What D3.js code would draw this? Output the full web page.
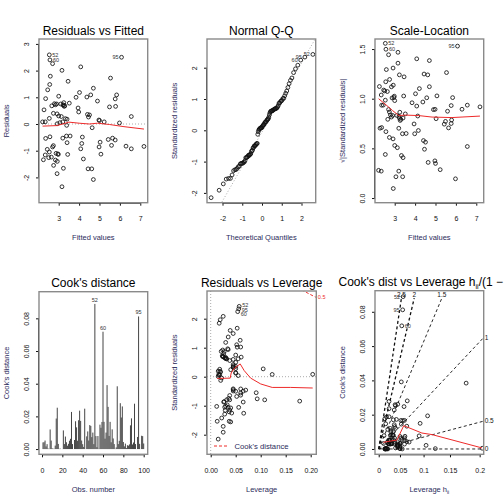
<!DOCTYPE html>
<html><head><meta charset="utf-8">
<script src="https://cdn.jsdelivr.net/npm/d3@7"></script>
<style>html,body{margin:0;padding:0;background:#fff;}</style>
</head><body>
<script>
// ---------------- data (one entry per observation, obs 1..100) ----------------
const obsFitted = [2.36,4.90,5.77,2.74,2.79,3.13,2.54,2.93,3.85,5.23,
  2.21,3.33,6.56,4.08,4.44,2.66,3.41,4.97,2.93,3.20,
  2.75,2.90,5.43,5.49,3.98,2.28,2.44,4.98,3.23,3.10,
  2.34,5.79,2.56,6.56,4.08,3.16,4.70,2.84,2.70,3.23,
  4.41,4.70,3.39,4.62,2.46,2.74,3.16,4.21,3.25,2.51,
  3.52,2.54,2.98,4.51,2.87,5.00,5.59,2.64,5.07,2.57,
  5.84,4.13,3.44,2.59,5.54,2.54,4.02,3.41,2.34,5.03,
  3.95,4.64,3.00,7.18,3.30,5.77,2.25,6.30,3.46,5.64,
  2.92,2.36,4.46,2.57,3.38,3.20,4.57,2.92,3.56,4.16,
  2.70,3.27,5.98,3.21,6.08,2.96,3.06,3.00,4.38,2.84];
const obsResid = [0.95,0.86,0.94,0.40,0.76,0.28,0.21,-1.40,1.00,0.08,
  0.08,0.20,0.28,2.14,-1.68,0.68,0.18,0.15,0.01,0.08,
  -1.55,0.75,-0.58,0.64,0.45,0.53,-0.95,-0.86,-1.66,0.75,
  0.08,0.66,1.48,-0.93,-0.93,-2.35,-2.08,-1.35,-0.86,0.70,
  0.36,1.34,-0.05,-1.68,1.28,-0.81,2.01,-1.31,0.80,-1.26,
  0.78,2.59,-1.14,0.34,-1.10,0.13,-0.80,-1.24,-1.13,2.40,
  1.09,-0.73,-1.14,1.79,1.72,-1.05,1.18,-0.70,-1.16,-0.68,
  0.60,-0.14,0.30,-0.84,0.68,-0.60,-1.34,-0.83,1.60,-0.53,
  0.38,-0.54,0.26,-0.48,-0.45,-0.53,1.09,-1.86,-0.45,-0.49,
  2.26,0.66,0.04,0.72,2.50,-1.12,0.05,1.04,1.01,0.72];
const obsLeverage = [0.021,0.026,0.027,0.045,0.024,0.018,0.015,0.028,0.024,0.204,
  0.123,0.018,0.105,0.019,0.040,0.031,0.020,0.050,0.015,0.018,
  0.022,0.025,0.091,0.045,0.045,0.050,0.026,0.038,0.037,0.025,
  0.016,0.055,0.035,0.065,0.027,0.015,0.025,0.042,0.032,0.028,
  0.045,0.059,0.022,0.013,0.030,0.036,0.017,0.037,0.050,0.029,
  0.023,0.057,0.028,0.045,0.030,0.050,0.093,0.038,0.056,0.054,
  0.060,0.052,0.035,0.053,0.039,0.033,0.052,0.038,0.040,0.060,
  0.038,0.020,0.050,0.178,0.030,0.060,0.066,0.108,0.045,0.065,
  0.050,0.050,0.040,0.045,0.045,0.045,0.053,0.025,0.060,0.070,
  0.025,0.032,0.055,0.061,0.056,0.012,0.017,0.034,0.035,0.030];
const sigmaHat = 1.1;     // residual standard error
const nCoef = 4;          // model rank p

// smoother curves (red)
const smoothResFit = [[2.21,-0.08],[2.9,-0.06],[3.2,0.0],[3.5,0.07],[4.0,0.03],[4.5,0.0],[4.9,0.03],[5.5,-0.02],[6.2,-0.10],[7.18,-0.19]];
const smoothScale = [[2.21,1.00],[2.62,0.93],[2.9,0.88],[3.2,0.83],[3.52,0.835],[4.18,0.83],[4.83,0.815],[5.81,0.81],[7.18,0.825]];
const smoothLev = [[0.013,-0.06],[0.039,-0.05],[0.041,0.13],[0.048,0.30],[0.059,0.44],[0.067,0.21],[0.08,-0.05],[0.10,-0.25],[0.123,-0.37],[0.16,-0.37],[0.204,-0.39]];
const smoothCookG = [[0.0114,0.0039],[0.026,0.0045],[0.045,0.0052],[0.062,0.0136],[0.107,0.0093],[0.132,0.0084],[0.256,0.0006]];

// tick values / labels
const ticksFitted = [3,4,5,6,7];
const ticksResid = [-2,-1,0,1,2,3];
const ticksQ = [-2,-1,0,1,2];
const ticksSqrt = [0,0.5,1,1.5];
const ticksObs = [0,20,40,60,80,100];
const ticksCook = [0,0.02,0.04,0.06,0.08];
const ticksLev = [0,0.05,0.10,0.15,0.20];
const ticksLevH = [0,0.05,0.1,0.15,0.2];
const ticksLevHLabels = ["0","0.05","0.1","0.15","0.2"];
const cookContourLevels = [0.5,1];
const sqrtContourLevels = [0,0.5,1,1.5,2,2.5];

// ---------------- derived quantities (as plot.lm computes them) ----------------
const n = obsFitted.length;
const obsId = d3.range(1, n+1);
const stdRes = obsResid.map((r,i)=> r/(sigmaHat*Math.sqrt(1-obsLeverage[i])));
const sqrtStd = stdRes.map(s=>Math.sqrt(Math.abs(s)));
const cooks = stdRes.map((s,i)=> s*s/nCoef*obsLeverage[i]/(1-obsLeverage[i]));
const gLev = obsLeverage.map(h=>h/(1-h));

function qnorm(p){
 const a=[-3.969683028665376e+01,2.209460984245205e+02,-2.759285104469687e+02,1.383577518672690e+02,-3.066479806614716e+01,2.506628277459239e+00];
 const b=[-5.447609879822406e+01,1.615858368580409e+02,-1.556989798598866e+02,6.680131188771972e+01,-1.328068155288572e+01];
 const c=[-7.784894002430293e-03,-3.223964580411365e-01,-2.400758277161838e+00,-2.549732539343734e+00,4.374664141464968e+00,2.938163982698783e+00];
 const d=[7.784695709041462e-03,3.224671290700398e-01,2.445134137142996e+00,3.754408661907416e+00];
 const pl=0.02425;
 if(p<pl){const q=Math.sqrt(-2*Math.log(p));return (((((c[0]*q+c[1])*q+c[2])*q+c[3])*q+c[4])*q+c[5])/((((d[0]*q+d[1])*q+d[2])*q+d[3])*q+1);}
 if(p<=1-pl){const q=p-0.5,r=q*q;return (((((a[0]*r+a[1])*r+a[2])*r+a[3])*r+a[4])*r+a[5])*q/(((((b[0]*r+b[1])*r+b[2])*r+b[3])*r+b[4])*r+1);}
 const q=Math.sqrt(-2*Math.log(1-p));return -(((((c[0]*q+c[1])*q+c[2])*q+c[3])*q+c[4])*q+c[5])/((((d[0]*q+d[1])*q+d[2])*q+d[3])*q+1);
}
const order = d3.range(n).sort((i,j)=>stdRes[i]-stdRes[j]);
const theo = new Array(n);
order.forEach((idx,rank)=>{ theo[idx] = qnorm((rank+1-0.5)/n); });
const top3 = arr => d3.range(n).sort((i,j)=>Math.abs(arr[j])-Math.abs(arr[i])).slice(0,3);

// ---------------- drawing ----------------
const F = "'Liberation Sans', Arial, Helvetica, sans-serif";
const LABCOL = "#2b2b5b", TICKCOL = "#111", BOXCOL = "#8a8a8a", RED = "#ee2a2a";
const svg = d3.select("body").append("svg").attr("width",504).attr("height",504)
  .attr("font-family",F);

function panel(cfg){
  const x = d3.scaleLinear().domain(cfg.xd).range([cfg.L,cfg.R]);
  const y = d3.scaleLinear().domain(cfg.yd).range([cfg.B,cfg.T]);
  const g = svg.append("g");
  const cid = "clip"+cfg.id;
  svg.append("clipPath").attr("id",cid).append("rect")
    .attr("x",cfg.L).attr("y",cfg.T).attr("width",cfg.R-cfg.L).attr("height",cfg.B-cfg.T);
  const plot = g.append("g").attr("clip-path",`url(#${cid})`);
  const xt = cfg.xtPos || cfg.xt;
  const xa = d3.axisBottom(x).tickValues(xt).tickSize(3).tickSizeOuter(0)
     .tickFormat(cfg.xf || (d=>d));
  const gx = g.append("g").attr("transform",`translate(0,${cfg.B})`).call(xa)
     .attr("font-family",F).attr("font-size",7);
  gx.select(".domain").attr("d",`M${x(xt[0])},0.5H${x(xt[xt.length-1])}`).attr("stroke",TICKCOL);
  gx.selectAll(".tick line").attr("stroke",TICKCOL);
  gx.selectAll(".tick text").attr("y",16).attr("dy","0.35em").attr("fill",TICKCOL);
  const ya = d3.axisLeft(y).tickValues(cfg.yt).tickSize(3).tickSizeOuter(0)
     .tickFormat(cfg.yf || (d=>d));
  const gy = g.append("g").attr("transform",`translate(${cfg.L},0)`).call(ya)
     .attr("font-family",F).attr("font-size",7);
  gy.select(".domain").attr("d",`M-0.5,${y(cfg.yt[0])}V${y(cfg.yt[cfg.yt.length-1])}`).attr("stroke",TICKCOL);
  gy.selectAll(".tick line").attr("stroke",TICKCOL);
  gy.selectAll(".tick text").attr("x",0).attr("dy",null).attr("text-anchor","middle")
     .attr("transform","translate(-10,0) rotate(-90)").attr("fill",TICKCOL);
  g.append("rect").attr("x",cfg.L).attr("y",cfg.T).attr("width",cfg.R-cfg.L).attr("height",cfg.B-cfg.T)
    .attr("fill","none").attr("stroke",BOXCOL).attr("stroke-width",1.4);
  const cx = (cfg.L+cfg.R)/2;
  if(cfg.title) g.append("text").attr("x",cx).attr("y",cfg.T-4.5).attr("text-anchor","middle")
    .attr("font-size",12).attr("fill","#000").text(cfg.title);
  const xl = g.append("text").attr("x",cx).attr("y",cfg.B+35).attr("dy","0.35em").attr("text-anchor","middle")
    .attr("font-size",7.5).attr("fill",LABCOL);
  if(cfg.xlabSub){ xl.append("tspan").text(cfg.xlab); xl.append("tspan").attr("font-size",5).attr("dy",2).text(cfg.xlabSub);} else xl.text(cfg.xlab);
  g.append("text").attr("transform",`translate(${cfg.L-33},${(cfg.T+cfg.B)/2}) rotate(-90)`)
    .attr("dy","0.35em").attr("text-anchor","middle").attr("font-size",7.5).attr("fill",LABCOL).text(cfg.ylab);
  return {x,y,g,plot};
}
function points(p, xs, ys){
  p.plot.append("g").selectAll("circle").data(d3.range(n)).join("circle")
    .attr("cx",i=>p.x(xs[i])).attr("cy",i=>p.y(ys[i])).attr("r",1.9)
    .attr("fill","none").attr("stroke","#111").attr("stroke-width",0.85);
}
function smooth(p, pts){
  p.plot.append("path").attr("d",d3.line().x(d=>p.x(d[0])).y(d=>p.y(d[1]))(pts))
    .attr("fill","none").attr("stroke",RED).attr("stroke-width",1);
}
function idLabels(p, ids, xs, ys, sideFn, dyFn){
  ids.forEach(i=>{
    const s = sideFn(i);
    const dy = dyFn ? dyFn(i) : 0;
    p.g.append("text").attr("x",p.x(xs[i])+s*3).attr("y",p.y(ys[i])+dy).attr("dy","0.35em")
      .attr("text-anchor", s>0?"start":"end").attr("font-size",5.5).attr("fill","#333").text(obsId[i]);
  });
}
const sideByX = (p, xs)=> i => (xs[i] > d3.mean(p.x.domain()) ? -1 : 1);
const dotted = (sel)=> sel.attr("stroke","#aaa").attr("stroke-width",1).attr("stroke-dasharray","1,2").attr("fill","none");

// Panel 1: Residuals vs Fitted
const p1 = panel({id:1,L:39,R:147.7,T:39,B:202.7,xd:[2.034,7.363],yd:[-2.948,3.184],
  xt:ticksFitted,yt:ticksResid,title:"Residuals vs Fitted",xlab:"Fitted values",ylab:"Residuals"});
dotted(p1.plot.append("line").attr("x1",39).attr("x2",147.7).attr("y1",p1.y(0)).attr("y2",p1.y(0)));
points(p1, obsFitted, obsResid);
smooth(p1, smoothResFit);
idLabels(p1, top3(obsResid), obsFitted, obsResid, sideByX(p1, obsFitted));

// Panel 2: Normal Q-Q
const p2 = panel({id:2,L:207,R:315.7,T:39,B:202.7,xd:[-2.785,2.719],yd:[-2.313,2.917],
  xt:ticksQ,yt:[-2,-1,0,1,2],title:"Normal Q-Q",xlab:"Theoretical Quantiles",ylab:"Standardized residuals"});
{
  const sorted = order.map(i=>stdRes[i]);
  const y25 = d3.quantile(sorted,0.25), y75 = d3.quantile(sorted,0.75);
  const x25 = qnorm(0.25), x75 = qnorm(0.75);
  const sl = (y75-y25)/(x75-x25), ic = y25 - sl*x25;
  const xd = p2.x.domain();
  dotted(p2.plot.append("line").attr("x1",p2.x(xd[0])).attr("y1",p2.y(ic+sl*xd[0]))
    .attr("x2",p2.x(xd[1])).attr("y2",p2.y(ic+sl*xd[1])));
}
points(p2, theo, stdRes);
idLabels(p2, top3(stdRes), theo, stdRes, sideByX(p2, theo));

// Panel 3: Scale-Location
const p3 = panel({id:3,L:375,R:483.7,T:39,B:202.7,xd:[2.034,7.363],yd:[-0.047,1.601],
  xt:ticksFitted,yt:ticksSqrt,yf:d3.format(".1f"),title:"Scale-Location",xlab:"Fitted values",ylab:"√|Standardized residuals|"});
points(p3, obsFitted, sqrtStd);
smooth(p3, smoothScale);
idLabels(p3, top3(sqrtStd), obsFitted, sqrtStd, sideByX(p3, obsFitted));

// Panel 4: Cook's distance
const p4 = panel({id:4,L:39,R:147.7,T:291.7,B:454.3,xd:[-2.96,103.96],yd:[-0.0032,0.0963],
  xt:ticksObs,yt:ticksCook,yf:d3.format(".2f"),title:"Cook's distance",xlab:"Obs. number",ylab:"Cook's distance"});
p4.plot.append("g").selectAll("line").data(d3.range(n)).join("line")
  .attr("x1",i=>p4.x(obsId[i])).attr("x2",i=>p4.x(obsId[i]))
  .attr("y1",p4.y(0)).attr("y2",i=>p4.y(cooks[i])).attr("stroke","#444").attr("stroke-width",1);
top3(cooks).forEach(i=>{
  p4.g.append("text").attr("x",p4.x(obsId[i])).attr("y",p4.y(cooks[i])-4).attr("dy","0.35em")
    .attr("text-anchor","middle").attr("font-size",5.5).attr("fill","#333").text(obsId[i]);
});

// Panel 5: Residuals vs Leverage
const p5 = panel({id:5,L:207,R:316.3,T:291,B:454.3,xd:[-0.0074,0.2112],yd:[-2.676,2.955],
  xt:ticksLev,yt:[-2,-1,0,1,2],xf:d3.format(".2f"),title:"Residuals vs Leverage",xlab:"Leverage",ylab:"Standardized residuals"});
dotted(p5.plot.append("line").attr("x1",207).attr("x2",316.3).attr("y1",p5.y(0)).attr("y2",p5.y(0)));
dotted(p5.plot.append("line").attr("x1",p5.x(0)).attr("x2",p5.x(0)).attr("y1",291).attr("y2",454.3));
points(p5, obsLeverage, stdRes);
smooth(p5, smoothLev);
{
  const xmax = p5.x.domain()[1];
  const hh = d3.range(0,101).map(k=>0.002 + (xmax-0.002)*k/100);
  cookContourLevels.forEach(cl=>{
    [1,-1].forEach(sg=>{
      const pts = hh.map(h=>[h, sg*Math.sqrt(cl*nCoef*(1-h)/h)]);
      p5.plot.append("path").attr("d",d3.line().x(d=>p5.x(d[0])).y(d=>p5.y(d[1]))(pts))
        .attr("fill","none").attr("stroke",RED).attr("stroke-width",1).attr("stroke-dasharray","3,2");
      const yv = sg*Math.sqrt(cl*nCoef*(1-xmax)/xmax);
      const yd = p5.y.domain();
      if (yv > yd[0] && yv < yd[1]) {
        p5.g.append("text").attr("x",p5.x(xmax)+1.5).attr("y",p5.y(yv)).attr("dy","0.35em")
          .attr("font-size",5.5).attr("fill",RED).text(cl);
      }
    });
  });
  p5.g.append("line").attr("x1",214).attr("x2",228).attr("y1",446).attr("y2",446)
    .attr("stroke",RED).attr("stroke-width",1).attr("stroke-dasharray","3,2");
  p5.g.append("text").attr("x",234.5).attr("y",446).attr("dy","0.35em").attr("font-size",7.7)
    .attr("fill",LABCOL).text("Cook's distance");
}
{
  const ids = top3(cooks);
  const dyMap = {52:-1.5, 95:1.5, 60:2};
  idLabels(p5, ids, obsLeverage, stdRes, sideByX(p5, obsLeverage), i => dyMap[obsId[i]] || 0);
}

// Panel 6: Cook's dist vs Leverage
const p6 = panel({id:6,L:375,R:483.7,T:290.7,B:454.3,xd:[-0.0092,0.26],yd:[-0.0031,0.0923],
  xt:ticksLevH, xtPos:ticksLevH.map(h=>h/(1-h)), xf:(d,k)=>ticksLevHLabels[k],
  yt:ticksCook,yf:d3.format(".2f"),title:null,xlab:"Leverage  h",xlabSub:"ii",ylab:"Cook's distance"});
{
  const t = p6.g.append("text").attr("x",(375+483.7)/2).attr("y",290.7-4.5).attr("text-anchor","middle")
    .attr("font-size",12).attr("fill","#000");
  t.append("tspan").text("Cook's dist vs Leverage  h");
  t.append("tspan").attr("font-size",7).attr("dy",3).text("ii");
  t.append("tspan").attr("dy",-3).text("/(1 − h");
  t.append("tspan").attr("font-size",7).attr("dy",3).text("ii");
  t.append("tspan").attr("dy",-3).text(")");
  const xmax = p6.x.domain()[1], ymax = p6.y.domain()[1];
  const sh = 5/ (p6.y(0)-p6.y(1));
  sqrtContourLevels.forEach(b=>{
    const b2 = b*b;
    if (nCoef*ymax > b2*xmax) {
      p6.plot.append("line").attr("x1",p6.x(0)).attr("y1",p6.y(0)).attr("x2",p6.x(xmax)).attr("y2",p6.y(b2*xmax/nCoef))
        .attr("stroke","#111").attr("stroke-width",0.9).attr("stroke-dasharray","3,2.5");
      p6.g.append("text").attr("x",p6.x(xmax)+1).attr("y",p6.y(b2*xmax/nCoef)).attr("dy","0.35em")
        .attr("font-size",6.5).attr("fill","#111").text(b);
    } else {
      const yi = ymax - 1.5*sh, xi = nCoef*yi/b2;
      p6.plot.append("line").attr("x1",p6.x(0)).attr("y1",p6.y(0)).attr("x2",p6.x(xi)).attr("y2",p6.y(yi))
        .attr("stroke","#111").attr("stroke-width",b>=2?1.3:0.9).attr("stroke-dasharray","3,2.5");
      p6.g.append("text").attr("x",p6.x(xi)).attr("y",p6.y(ymax-0.8*sh)).attr("dy","0.35em")
        .attr("text-anchor","middle").attr("font-size",6.5).attr("fill","#111").text(b);
    }
  });
}
points(p6, gLev, cooks);
smooth(p6, smoothCookG);
{
  const ids = top3(cooks);
  const sideMap = {52:-1, 95:-1, 60:1};
  idLabels(p6, ids, gLev, cooks, i => sideMap[obsId[i]] || 1);
}
</script>
</body></html>
